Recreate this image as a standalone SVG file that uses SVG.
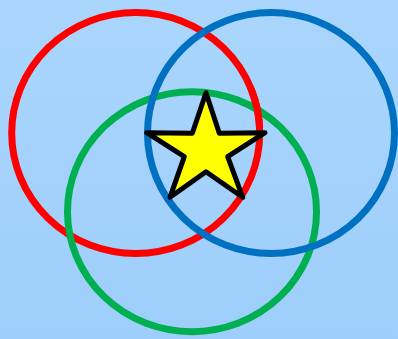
<svg xmlns="http://www.w3.org/2000/svg" width="398" height="339" viewBox="0 0 398 339">
<style>
.ring{fill:none;stroke-width:7}
</style>
<defs>
<linearGradient id="bg" x1="0" y1="0" x2="0" y2="1">
<stop offset="0" stop-color="#aad6fd"/>
<stop offset="1" stop-color="#9ecefb"/>
</linearGradient>
<clipPath id="over"><rect x="240" y="88" width="35" height="40"/></clipPath>
</defs>
<rect width="398" height="339" fill="url(#bg)"/>
<g id="red"><ellipse class="ring" cx="135.7" cy="133" rx="124" ry="120.5" stroke="#ff0000"/></g>
<g id="green"><ellipse class="ring" cx="192" cy="211.7" rx="124.5" ry="120" stroke="#00b050"/></g>
<g id="red-over"><ellipse class="ring" cx="135.7" cy="133" rx="124" ry="120.5" stroke="#ff0000" clip-path="url(#over)"/></g>
<g id="blue"><ellipse class="ring" cx="271" cy="133" rx="123.5" ry="120.5" stroke="#0070c0"/></g>
<g id="star"><polygon points="206,92.7 219.3,133.3 265,132.7 227.7,156.7 242.7,197.3 206,171.7 170,197.3 184.3,156.7 146.7,132.7 192.3,133.3" fill="#ffff00" stroke="#000" stroke-width="5" stroke-linejoin="round"/></g>
</svg>
